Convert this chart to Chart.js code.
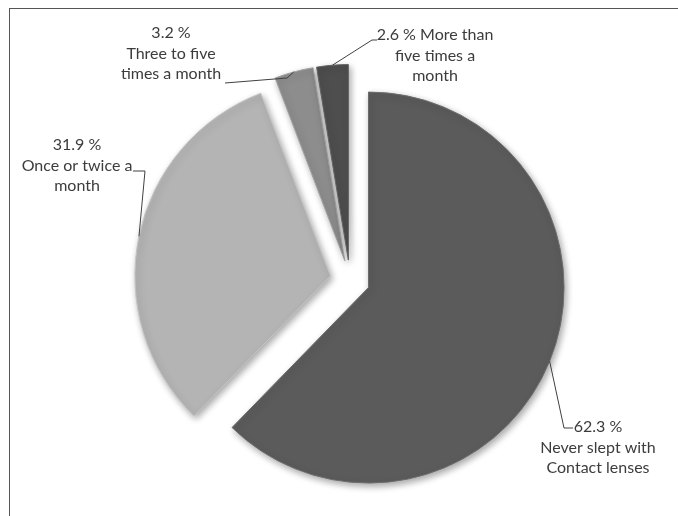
<!DOCTYPE html>
<html>
<head>
<meta charset="utf-8">
<title>Sleeping with contact lenses</title>
<script src="https://cdn.jsdelivr.net/npm/chart.js@4.4.1/dist/chart.umd.min.js"></script>
<style>
    html, body { margin: 0; padding: 0; background: #fff; }
    #wrap { position: relative; width: 678px; height: 516px; overflow: hidden; }
    #wrap canvas { position: absolute; left: 0; top: 0; }
    #frame {
        position: absolute; left: 9px; top: 8px; right: -2px; bottom: -2px;
        border-left: 1px solid #555; border-top: 1px solid #555;
        pointer-events: none;
    }
</style>
</head>
<body>
<div id="wrap">
    <canvas id="chartPie" width="678" height="516"></canvas>
    <div id="frame"></div>
</div>
<script>
// Datos
const categories = ['Never slept with Contact lenses', 'Once or twice a month', 'Three to five times a month', 'More than five times a month'];
const percentages = [62.3, 31.9, 3.2, 2.6];
const sliceColors = ['#5b5b5b', '#b4b4b4', '#8d8d8d', '#4e4e4e'];
const edgeColors = ['#6c6c6c', '#c4c4c4', '#a0a0a0', '#626262'];

// Texto de las etiquetas (linea 1 lleva el porcentaje)
const labelText = [
    ['Never slept with', 'Contact lenses'],
    ['Once or twice a', 'month'],
    ['Three to five', 'times a month'],
    ['More than', 'five times a', 'month']
];

// Posicion de cada etiqueta: centro del texto, primera linea, y codo de la linea guia
const labelLayout = [
    { cx: 598, y: 427, inline: false, path: [[564, 428], [573, 428]] },
    { cx: 77,  y: 145, inline: false, path: [[145, 171], [133, 171]] },
    { cx: 171, y: 33,  inline: false, path: [[287, 78], [225, 83]] },
    { cx: 435, y: 35,  inline: true,  path: [[372, 40], [377, 40]] }
];

// Separa cada porcion del centro (pastel explotado)
const explodePlugin = {
    id: 'explode',
    afterDatasetUpdate(chart, args, opts) {
        const dist = opts.distance || 0;
        args.meta.data.forEach(arc => {
            const mid = (arc.startAngle + arc.endAngle) / 2;
            arc.x += Math.cos(mid) * dist;
            arc.y += Math.sin(mid) * dist;
        });
    }
};

// Sombra suave debajo de las porciones
const shadowPlugin = {
    id: 'softShadow',
    beforeDatasetsDraw(chart) {
        const ctx = chart.ctx;
        ctx.save();
        ctx.shadowColor = 'rgba(0, 0, 0, 0.35)';
        ctx.shadowBlur = 7;
        ctx.shadowOffsetX = 2;
        ctx.shadowOffsetY = 3;
    },
    afterDatasetsDraw(chart) {
        chart.ctx.restore();
    }
};

// Etiquetas con lineas guia
const leaderLabels = {
    id: 'leaderLabels',
    afterDraw(chart) {
        const ctx = chart.ctx;
        const arcs = chart.getDatasetMeta(0).data;
        ctx.save();
        ctx.font = '16px Lato, "Open Sans", sans-serif';
        ctx.fillStyle = '#3c3c3c';
        ctx.textAlign = 'center';
        ctx.textBaseline = 'middle';
        arcs.forEach((arc, i) => {
            const lay = labelLayout[i];
            const mid = (arc.startAngle + arc.endAngle) / 2;
            const ax = arc.x + Math.cos(mid) * arc.outerRadius;
            const ay = arc.y + Math.sin(mid) * arc.outerRadius;

            ctx.strokeStyle = '#404040';
            ctx.lineWidth = 1;
            ctx.beginPath();
            ctx.moveTo(ax, ay);
            lay.path.forEach(p => ctx.lineTo(p[0], p[1]));
            ctx.stroke();

            const pct = percentages[i].toFixed(1) + ' %';
            let lines;
            if (lay.inline) {
                lines = [pct + ' ' + labelText[i][0]].concat(labelText[i].slice(1));
            } else {
                lines = [pct].concat(labelText[i]);
            }
            lines.forEach((t, k) => ctx.fillText(t, lay.cx, lay.y + k * 20.5));
        });
        ctx.restore();
    }
};

const ctx = document.getElementById('chartPie').getContext('2d');
new Chart(ctx, {
    type: 'pie',
    data: {
        labels: categories,
        datasets: [{
            data: percentages,
            backgroundColor: sliceColors,
            borderColor: edgeColors,
            borderWidth: 1
        }]
    },
    options: {
        responsive: false,
        animation: false,
        events: [],
        layout: { padding: { left: 100, right: 78, top: 84, bottom: 40 } },
        plugins: {
            legend: { display: false },
            tooltip: { enabled: false },
            explode: { distance: 20 }
        }
    },
    plugins: [explodePlugin, shadowPlugin, leaderLabels]
});
</script>
</body>
</html>
